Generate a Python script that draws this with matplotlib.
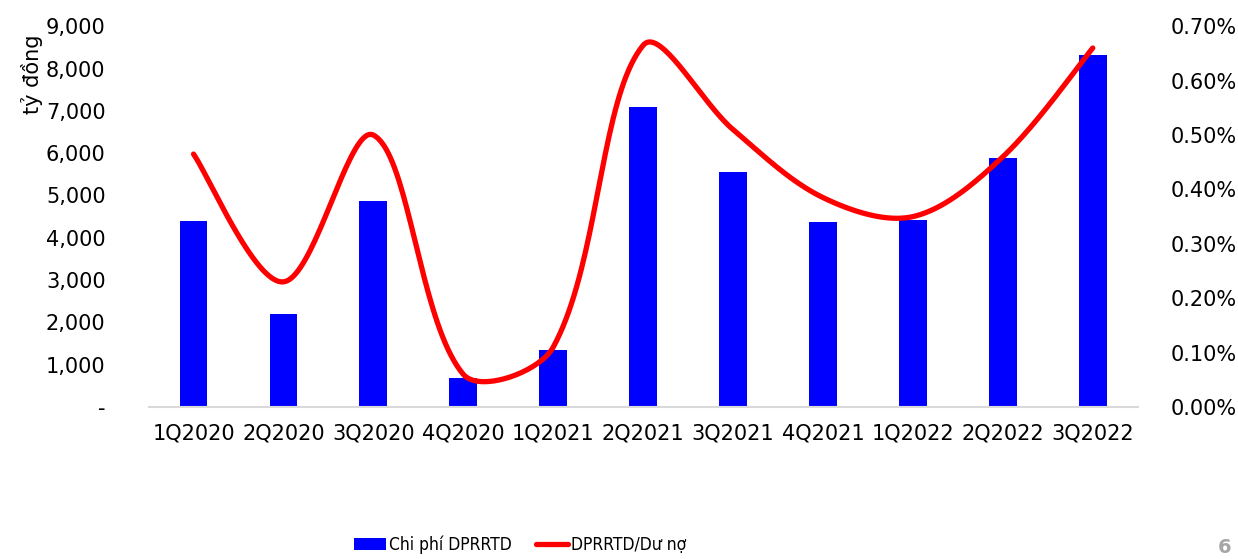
import matplotlib
matplotlib.use("Agg")
import matplotlib.pyplot as plt
import matplotlib.ticker as mticker
from matplotlib.patches import Patch
from matplotlib.lines import Line2D
import numpy as np

quarters = ["1Q2020", "2Q2020", "3Q2020", "4Q2020", "1Q2021", "2Q2021",
            "3Q2021", "4Q2021", "1Q2022", "2Q2022", "3Q2022"]
chi_phi = [4400, 2200, 4870, 690, 1350, 7100, 5550, 4370, 4420, 5880, 8320]
ty_le = [0.465, 0.23, 0.50, 0.06, 0.11, 0.665, 0.51, 0.385, 0.35, 0.46, 0.66]  # %

BLUE = "#0000ff"
RED = "#ff0000"

# pixel scale of the plot, used so the smoothing behaves like Excel's
PX_X = 90.0     # px per category
PX_Y = 544.0    # px per 1 %


def smooth(x, y, n=40, f=1 / 3):
    # bezier through the points, control arms scaled by segment length
    P = np.column_stack([np.asarray(x, float) * PX_X, np.asarray(y, float) * PX_Y])
    d = np.hypot(*np.diff(P, axis=0).T)
    out = []
    t = np.linspace(0, 1, n)[:, None]
    for i in range(len(P) - 1):
        p0, p3 = P[i], P[i + 1]
        if i == 0:
            c1 = p0 + (p3 - p0) * f * 0.5
        else:
            tan = P[i + 1] - P[i - 1]
            c1 = p0 + tan * f * d[i] / (d[i - 1] + d[i])
        if i == len(P) - 2:
            c2 = p3 - (p3 - p0) * f * 0.5
        else:
            tan = P[i + 2] - P[i]
            c2 = p3 - tan * f * d[i] / (d[i] + d[i + 1])
        seg = ((1 - t) ** 3 * p0 + 3 * (1 - t) ** 2 * t * c1
               + 3 * (1 - t) * t ** 2 * c2 + t ** 3 * p3)
        out.append(seg)
    out = np.vstack(out)
    return out[:, 0] / PX_X, out[:, 1] / PX_Y


fig = plt.figure(figsize=(12.38, 5.59), dpi=100)
ax = fig.add_axes([0.120, 0.272, 0.799, 0.681])
ax2 = ax.twinx()

x = np.arange(len(quarters))
ax.bar(x, chi_phi, width=0.31, color=BLUE, zorder=2)
sx, sy = smooth(x, ty_le)
ax2.plot(sx, sy, color=RED, lw=3.8, solid_capstyle="round", zorder=3)

ax.set_xlim(-0.5, len(quarters) - 0.5)
ax.set_ylim(0, 9000)
ax2.set_ylim(0, 0.70)

ax.set_yticks(np.arange(0, 9001, 1000))
ax.yaxis.set_major_formatter(mticker.FuncFormatter(
    lambda v, p: "-" if v == 0 else f"{int(v):,}"))
ax2.set_yticks(np.arange(0, 0.701, 0.1))
ax2.yaxis.set_major_formatter(mticker.FuncFormatter(lambda v, p: f"{v:.2f}%"))

ax.set_xticks(x)
ax.set_xticklabels(quarters)

for a in (ax, ax2):
    for s in ("top", "left", "right"):
        a.spines[s].set_visible(False)
    a.spines["bottom"].set_color("#d9d9d9")
    a.spines["bottom"].set_linewidth(1.5)
    a.tick_params(length=0, labelsize=15, colors="black")
ax.tick_params(axis="y", pad=31)
ax.tick_params(axis="x", pad=12)
ax2.tick_params(axis="y", pad=24)
ax2.spines["bottom"].set_visible(False)

fig.text(0.026, 0.868, "tỷ đồng", rotation=90, fontsize=15,
         ha="center", va="center")

handles = [Patch(facecolor=BLUE, edgecolor="none"),
           Line2D([0], [0], color=RED, lw=3.8, solid_capstyle="round")]
fig.legend(handles, ["Chi phí DPRRTD", "DPRRTD/Dư nợ"],
           loc="center", bbox_to_anchor=(0.42, 0.025), ncol=2,
           frameon=False, handlelength=1.85, handletextpad=0.18,
           columnspacing=1.4, borderpad=0,
           prop={"family": "DejaVu Sans", "stretch": "condensed", "size": 12.5})

fig.text(0.984, 0.003, "6", fontsize=14, color="#a6a6a6", fontweight="bold",
         ha="left", va="bottom")

fig.savefig("out.png", dpi=100)
